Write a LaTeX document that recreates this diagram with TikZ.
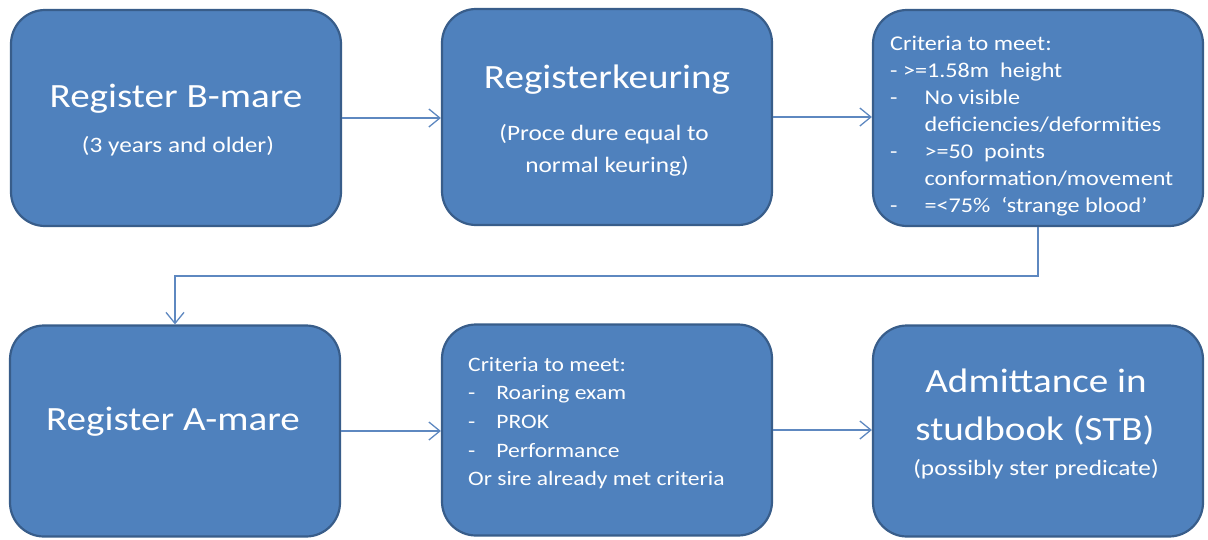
\documentclass[tikz,border=0pt]{standalone}
\usepackage{fontspec}
\setmainfont{Carlito}
\usetikzlibrary{arrows.meta}
\definecolor{boxfill}{HTML}{4F81BD}
\definecolor{boxline}{HTML}{385D8A}
\definecolor{arrowc}{HTML}{5E88C0}
\newcommand{\sx}[1]{\scalebox{1.15}[1]{#1}}
\newcommand{\fs}[2]{\fontsize{#1}{#2}\selectfont}
\begin{document}
\begin{tikzpicture}[x=1pt,y=-1pt,
  boxnode/.style={draw=boxline, fill=boxfill, line width=2.2pt, rounded corners=34pt,
    minimum width=330pt, inner sep=0pt},
  tophigh/.style={minimum height=216pt},
  bothigh/.style={minimum height=211pt},
  txt/.style={text=white, inner sep=0pt},
  conn/.style={draw=arrowc, line width=1.3pt, -{Straight Barb[length=11pt,width=18pt,line width=1.3pt]}}]
\useasboundingbox (0,0) rectangle (1208,539);

% boxes
\node[boxnode, tophigh] (b1) at (176,118) {};
\node[boxnode, tophigh] (b2) at (607,117) {};
\node[boxnode, tophigh] (b3) at (1038,118) {};
\node[boxnode, bothigh] (b4) at (175,431) {};
\node[boxnode, bothigh] (b5) at (607,430) {};
\node[boxnode, bothigh] (b6) at (1038,431) {};

% texts box 1
\node[txt, anchor=base] (t1a) at (176,107) {\sx{\fs{34}{40}Register B-mare}};
\node[txt, anchor=base] (t1b) at (178,152) {\sx{\fs{22}{27}(3 years and older)}};

% texts box 2
\node[txt, anchor=base] (t2a) at (607,88) {\sx{\fs{34}{40}Registerkeuring}};
\node[txt, anchor=base] (t2b) at (604,140) {\sx{\fs{22}{27}(Proce dure equal to}};
\node[txt, anchor=base] (t2c) at (607,172) {\sx{\fs{22}{27}normal keuring)}};

% texts box 3
\node[txt, anchor=base west] (t3) at (890,50) {\sx{\fs{21}{27}\begin{tabular}[t]{@{}l@{}l@{}}
\multicolumn{2}{@{}l@{}}{Criteria to meet:}\\
\multicolumn{2}{@{}l@{}}{- >=1.58m\ \ height}\\
\makebox[30pt][l]{-} & No visible\\
 & deficiencies/deformities\\
- & >=50\ \ points\\
 & conformation/movement\\
- & =<75\%\ \ ‘strange blood’
\end{tabular}}};

% texts box 4
\node[txt, anchor=base] (t4) at (173,430) {\sx{\fs{34}{40}Register A-mare}};

% texts box 5
\node[txt, anchor=base west] (t5) at (468,371) {\sx{\fs{20.5}{28.7}\begin{tabular}[t]{@{}l@{}l@{}}
\multicolumn{2}{@{}l@{}}{Criteria to meet:}\\
\makebox[24.5pt][l]{-} & Roaring exam\\
- & PROK\\
- & Performance\\
\multicolumn{2}{@{}l@{}}{Or sire already met criteria}
\end{tabular}}};

% texts box 6
\node[txt, anchor=base] (t6a) at (1036,392) {\sx{\fs{34}{40}Admittance in}};
\node[txt, anchor=base] (t6b) at (1035,440) {\sx{\fs{34}{40}studbook (STB)}};
\node[txt, anchor=base] (t6c) at (1036,475) {\sx{\fs{22}{27}(possibly ster predicate)}};

% connectors
\coordinate (bend) at (1038,276);
\draw[conn] (b1.east) -- (b2.west |- b1.east);
\draw[conn] (b2.east) -- (b3.west |- b2.east);
\draw[conn] (b3.south) -- (bend) -| (b4.north);
\draw[conn] (b4.east) -- (b5.west |- b4.east);
\draw[conn] (b5.east) -- (b6.west |- b5.east);
\end{tikzpicture}
\end{document}
